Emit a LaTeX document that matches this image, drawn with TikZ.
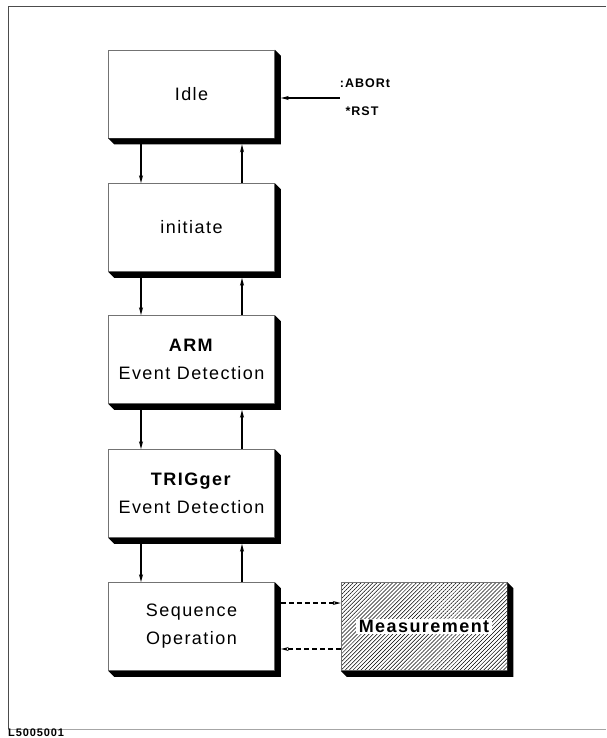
\documentclass[tikz,border=0pt]{standalone}
\usepackage{fontspec}
\setmainfont{Liberation Sans}[LetterSpace=8]
\usetikzlibrary{arrows.meta, patterns.meta}

\begin{document}
\begin{tikzpicture}[x=1pt, y=-1pt]

    \tikzset{box/.style={draw=black!55, line width=0.6pt, fill=white, minimum width=166pt, minimum height=88pt,
                         align=center, inner sep=0pt, font=\fontsize{18}{28}\selectfont},
             flow/.style={-{Stealth[length=8pt, width=4pt]}, line width=1.2pt},
             link/.style={flow, dash pattern=on 5pt off 3pt},
             cmd/.style={font=\bfseries\fontsize{12.5}{14}\selectfont, inner sep=0pt}}

    % Frame
    \useasboundingbox (0,0) rectangle (606,738);
    \draw[black!70, line width=1pt] (606,7) -- (8,7) -- (8,729);
    \draw[black!35, line width=1pt] (8,729) -- (606,729);
    \node[anchor=west, font=\bfseries\fontsize{11}{12}\selectfont, inner sep=0pt] (fig) at (8,732.5) {L5005001};

    % States
    \node[box] (idle) at (191.5,94)    {Idle};
    \node[box] (init) at (191.5,227.5) {initiate};
    \node[box] (arm)  at (191.5,359.5) {\textbf{ARM}\\Event Detection};
    \node[box] (trig) at (191.5,493.5) {\textbf{TRIGger}\\Event Detection};
    \node[box] (seq)  at (191.5,626.5) {Sequence\\Operation};
    \node[box, pattern={Lines[angle=45, distance=2.8pt, line width=0.5pt]}] (meas) at (424,626.5) {};
    \node[fill=white, inner xsep=3pt, inner ysep=1.5pt, font=\bfseries\fontsize{18}{28}\selectfont] (measlabel) at (meas) {Measurement};

    % Shadows
    \foreach \n in {idle,init,arm,trig,seq,meas}
        \fill (\n.north east) -- ++(6,6) -- ([shift={(6,6)}]\n.south east)
              -- ([shift={(6,6)}]\n.south west) -- (\n.south west) -- (\n.south east) -- cycle;

    % Up and down
    \foreach \a/\b in {idle/init, init/arm, arm/trig, trig/seq} {
        \draw[flow] ([xshift=-50.5pt, yshift=-6pt]\a.south) -- ([xshift=-50.5pt]\b.north);
        \draw[flow] ([xshift=50.5pt]\b.north) -- ([xshift=50.5pt, yshift=-6pt]\a.south);
    }

    % Abort / reset
    \coordinate (abort) at ([xshift=65pt, yshift=-4pt]idle.east);
    \draw[flow] (abort) -- ([xshift=6pt, yshift=-4pt]idle.east);
    \node[cmd] (abortcmd) at (365,83)  {:ABORt};
    \node[cmd] (rstcmd)   at (362,111) {*RST};

    % Measurement link
    \draw[link] ([xshift=6pt, yshift=23.5pt]seq.east) -- ([yshift=23.5pt]meas.west);
    \draw[link] ([yshift=-22.5pt]meas.west) -- ([xshift=6pt, yshift=-22.5pt]seq.east);

\end{tikzpicture}
\end{document}
